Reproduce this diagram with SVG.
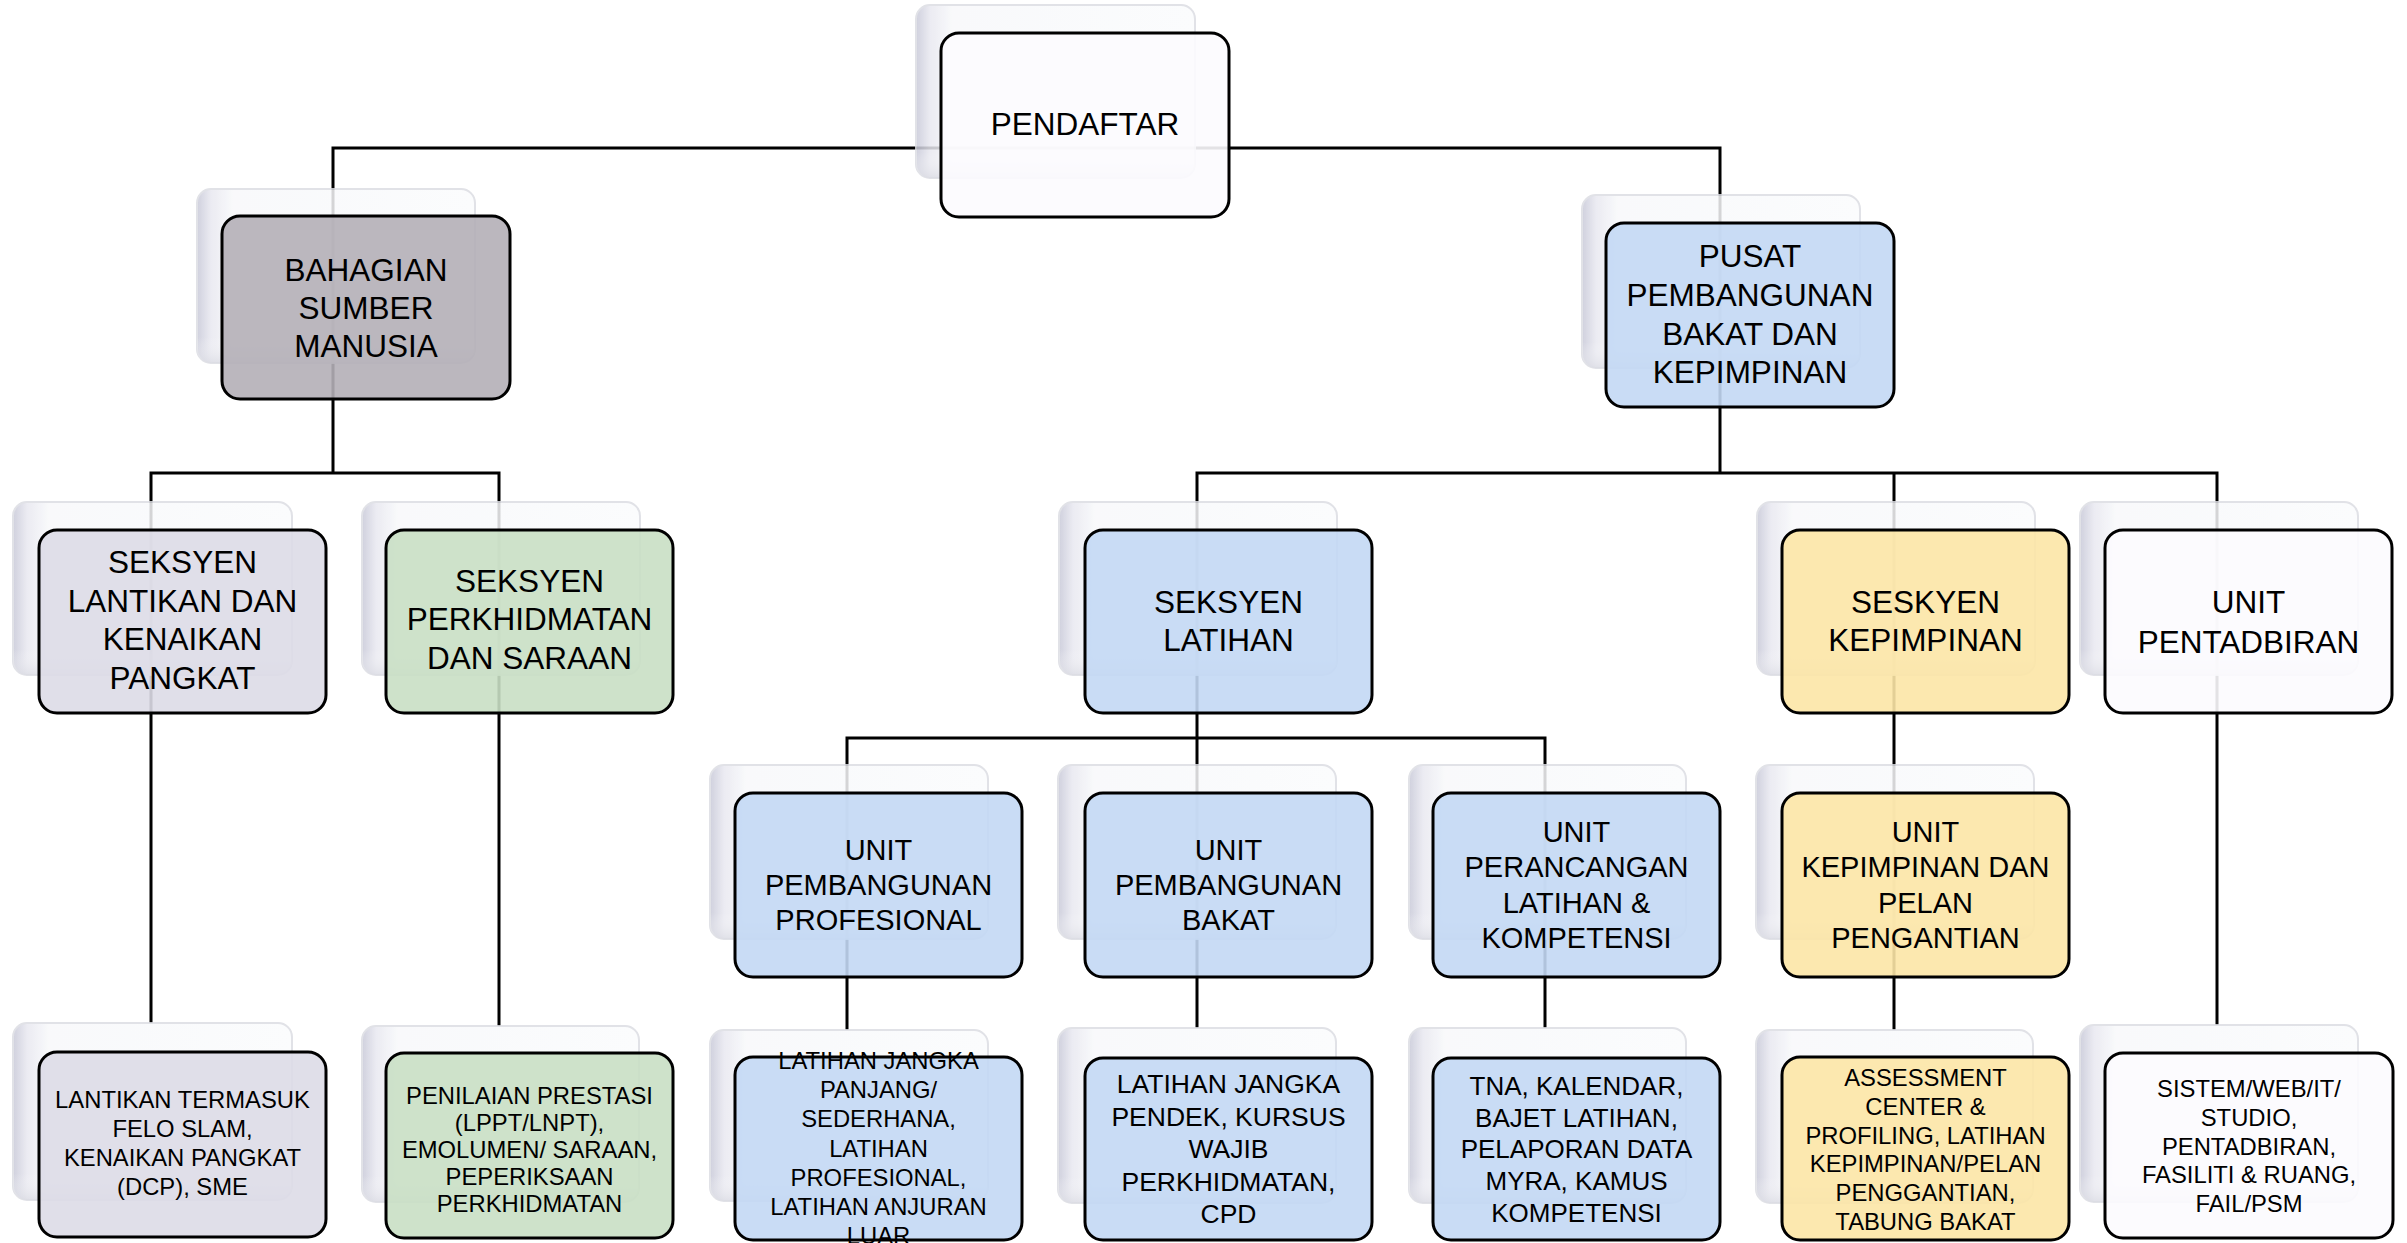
<svg xmlns="http://www.w3.org/2000/svg" width="2407" height="1243" viewBox="0 0 2407 1243">
<defs>
<linearGradient id="backGrad" x1="0" y1="0" x2="1" y2="0">
<stop offset="0" stop-color="#c8c9d8"/>
<stop offset="0.05" stop-color="#e8e8f0"/>
<stop offset="0.13" stop-color="#f8f9fb"/>
<stop offset="1" stop-color="#fbfcfd"/>
</linearGradient>
<linearGradient id="backShade" x1="0" y1="0" x2="0" y2="1">
<stop offset="0.85" stop-color="#ffffff" stop-opacity="0"/>
<stop offset="1" stop-color="#d9dae2" stop-opacity="0.8"/>
</linearGradient>
<style>
.conn{fill:none;stroke:#000;stroke-width:3}
.back{fill:url(#backGrad);stroke:#dcdde3;stroke-width:2;opacity:0.85}
.shade{fill:url(#backShade);stroke:none;opacity:0.85}
.front{stroke:#000;stroke-width:3;fill-opacity:0.9}
.white{fill:#fcfbfe}
.mauve{fill:#b4afb7}
.blue{fill:#c3d8f4}
.lav{fill:#dddbe7}
.green{fill:#c9dfc4}
.yellow{fill:#fce5a6}
text{font-family:"Liberation Sans",Arial,sans-serif;fill:#000;text-anchor:middle}
.f1{font-size:31.5px}
.f2{font-size:29px}
.f3{font-size:26.5px}
.f4{font-size:23.8px}
</style>
</defs>
<rect x="0" y="0" width="2407" height="1243" fill="#ffffff"/>

<g id="connectors">
<path class="conn" d="M333,473 V148 H1720 V473"/>
<path class="conn" d="M151,1023 V473 H499 V1026"/>
<path class="conn" d="M1197,1028 V473 H2217 V1025"/>
<path class="conn" d="M1894,473 V1030"/>
<path class="conn" d="M847,1030 V738 H1545 V1028"/>
</g>

<g id="node-pendaftar">
<rect class="back" x="916" y="5" width="279" height="173" rx="14"/>
<rect class="shade" x="916" y="5" width="279" height="173" rx="14"/>
<rect class="front white" x="941" y="33" width="288" height="184" rx="18"/>
<text class="f1" x="1085" y="135">PENDAFTAR</text>
</g>

<g id="node-bahagian-sumber-manusia">
<rect class="back" x="197" y="189" width="278" height="174" rx="14"/>
<rect class="shade" x="197" y="189" width="278" height="174" rx="14"/>
<rect class="front mauve" x="222" y="216" width="288" height="183" rx="18"/>
<text class="f1"><tspan x="366" y="281">BAHAGIAN</tspan><tspan x="366" y="319">SUMBER</tspan><tspan x="366" y="357">MANUSIA</tspan></text>
</g>

<g id="node-pusat">
<rect class="back" x="1582" y="195" width="278" height="173" rx="14"/>
<rect class="shade" x="1582" y="195" width="278" height="173" rx="14"/>
<rect class="front blue" x="1606" y="223" width="288" height="184" rx="18"/>
<text class="f1"><tspan x="1750" y="267">PUSAT</tspan><tspan x="1750" y="306">PEMBANGUNAN</tspan><tspan x="1750" y="345">BAKAT DAN</tspan><tspan x="1750" y="383">KEPIMPINAN</tspan></text>
</g>

<g id="node-seksyen-lantikan">
<rect class="back" x="13" y="502" width="279" height="173" rx="14"/>
<rect class="shade" x="13" y="502" width="279" height="173" rx="14"/>
<rect class="front lav" x="39" y="530" width="287" height="183" rx="18"/>
<text class="f1"><tspan x="182.5" y="573">SEKSYEN</tspan><tspan x="182.5" y="612">LANTIKAN DAN</tspan><tspan x="182.5" y="650">KENAIKAN</tspan><tspan x="182.5" y="689">PANGKAT</tspan></text>
</g>

<g id="node-seksyen-perkhidmatan">
<rect class="back" x="362" y="502" width="278" height="173" rx="14"/>
<rect class="shade" x="362" y="502" width="278" height="173" rx="14"/>
<rect class="front green" x="386" y="530" width="287" height="183" rx="18"/>
<text class="f1"><tspan x="529.5" y="592">SEKSYEN</tspan><tspan x="529.5" y="630">PERKHIDMATAN</tspan><tspan x="529.5" y="669">DAN SARAAN</tspan></text>
</g>

<g id="node-seksyen-latihan">
<rect class="back" x="1059" y="502" width="278" height="173" rx="14"/>
<rect class="shade" x="1059" y="502" width="278" height="173" rx="14"/>
<rect class="front blue" x="1085" y="530" width="287" height="183" rx="18"/>
<text class="f1"><tspan x="1228.5" y="613">SEKSYEN</tspan><tspan x="1228.5" y="651">LATIHAN</tspan></text>
</g>

<g id="node-seskyen-kepimpinan">
<rect class="back" x="1757" y="502" width="278" height="173" rx="14"/>
<rect class="shade" x="1757" y="502" width="278" height="173" rx="14"/>
<rect class="front yellow" x="1782" y="530" width="287" height="183" rx="18"/>
<text class="f1"><tspan x="1925.5" y="613">SESKYEN</tspan><tspan x="1925.5" y="651">KEPIMPINAN</tspan></text>
</g>

<g id="node-unit-pentadbiran">
<rect class="back" x="2080" y="502" width="278" height="173" rx="14"/>
<rect class="shade" x="2080" y="502" width="278" height="173" rx="14"/>
<rect class="front white" x="2105" y="530" width="287" height="183" rx="18"/>
<text class="f1"><tspan x="2248.5" y="613">UNIT</tspan><tspan x="2248.5" y="653">PENTADBIRAN</tspan></text>
</g>

<g id="node-unit-pembangunan-profesional">
<rect class="back" x="710" y="765" width="278" height="174" rx="14"/>
<rect class="shade" x="710" y="765" width="278" height="174" rx="14"/>
<rect class="front blue" x="735" y="793" width="287" height="184" rx="18"/>
<text class="f2"><tspan x="878.5" y="860">UNIT</tspan><tspan x="878.5" y="895">PEMBANGUNAN</tspan><tspan x="878.5" y="930">PROFESIONAL</tspan></text>
</g>

<g id="node-unit-pembangunan-bakat">
<rect class="back" x="1058" y="765" width="278" height="174" rx="14"/>
<rect class="shade" x="1058" y="765" width="278" height="174" rx="14"/>
<rect class="front blue" x="1085" y="793" width="287" height="184" rx="18"/>
<text class="f2"><tspan x="1228.5" y="860">UNIT</tspan><tspan x="1228.5" y="895">PEMBANGUNAN</tspan><tspan x="1228.5" y="930">BAKAT</tspan></text>
</g>

<g id="node-unit-perancangan">
<rect class="back" x="1409" y="765" width="277" height="174" rx="14"/>
<rect class="shade" x="1409" y="765" width="277" height="174" rx="14"/>
<rect class="front blue" x="1433" y="793" width="287" height="184" rx="18"/>
<text class="f2"><tspan x="1576.5" y="842">UNIT</tspan><tspan x="1576.5" y="877">PERANCANGAN</tspan><tspan x="1576.5" y="913">LATIHAN &amp;</tspan><tspan x="1576.5" y="948">KOMPETENSI</tspan></text>
</g>

<g id="node-unit-kepimpinan">
<rect class="back" x="1756" y="765" width="278" height="174" rx="14"/>
<rect class="shade" x="1756" y="765" width="278" height="174" rx="14"/>
<rect class="front yellow" x="1782" y="793" width="287" height="184" rx="18"/>
<text class="f2"><tspan x="1925.5" y="842">UNIT</tspan><tspan x="1925.5" y="877">KEPIMPINAN DAN</tspan><tspan x="1925.5" y="913">PELAN</tspan><tspan x="1925.5" y="948">PENGANTIAN</tspan></text>
</g>

<g id="node-lantikan-termasuk">
<rect class="back" x="13" y="1023" width="279" height="177" rx="14"/>
<rect class="shade" x="13" y="1023" width="279" height="177" rx="14"/>
<rect class="front lav" x="39" y="1052" width="287" height="185" rx="18"/>
<text class="f4"><tspan x="182.5" y="1108">LANTIKAN TERMASUK</tspan><tspan x="182.5" y="1137">FELO SLAM,</tspan><tspan x="182.5" y="1166">KENAIKAN PANGKAT</tspan><tspan x="182.5" y="1195">(DCP), SME</tspan></text>
</g>

<g id="node-penilaian-prestasi">
<rect class="back" x="362" y="1026" width="277" height="176" rx="14"/>
<rect class="shade" x="362" y="1026" width="277" height="176" rx="14"/>
<rect class="front green" x="386" y="1053" width="287" height="185" rx="18"/>
<text class="f4"><tspan x="529.5" y="1104">PENILAIAN PRESTASI</tspan><tspan x="529.5" y="1131">(LPPT/LNPT),</tspan><tspan x="529.5" y="1158">EMOLUMEN/ SARAAN,</tspan><tspan x="529.5" y="1185">PEPERIKSAAN</tspan><tspan x="529.5" y="1212">PERKHIDMATAN</tspan></text>
</g>

<g id="node-latihan-jangka-panjang">
<rect class="back" x="710" y="1030" width="278" height="171" rx="14"/>
<rect class="shade" x="710" y="1030" width="278" height="171" rx="14"/>
<rect class="front blue" x="735" y="1057" width="287" height="183" rx="18"/>
<text class="f4"><tspan x="878.5" y="1069">LATIHAN JANGKA</tspan><tspan x="878.5" y="1098">PANJANG/</tspan><tspan x="878.5" y="1127">SEDERHANA,</tspan><tspan x="878.5" y="1157">LATIHAN</tspan><tspan x="878.5" y="1186">PROFESIONAL,</tspan><tspan x="878.5" y="1215">LATIHAN ANJURAN</tspan><tspan x="878.5" y="1244">LUAR</tspan></text>
</g>

<g id="node-latihan-jangka-pendek">
<rect class="back" x="1058" y="1028" width="278" height="175" rx="14"/>
<rect class="shade" x="1058" y="1028" width="278" height="175" rx="14"/>
<rect class="front blue" x="1085" y="1058" width="287" height="182" rx="18"/>
<text class="f3"><tspan x="1228.5" y="1093">LATIHAN JANGKA</tspan><tspan x="1228.5" y="1125.5">PENDEK, KURSUS</tspan><tspan x="1228.5" y="1158">WAJIB</tspan><tspan x="1228.5" y="1190.5">PERKHIDMATAN,</tspan><tspan x="1228.5" y="1223">CPD</tspan></text>
</g>

<g id="node-tna">
<rect class="back" x="1409" y="1028" width="277" height="175" rx="14"/>
<rect class="shade" x="1409" y="1028" width="277" height="175" rx="14"/>
<rect class="front blue" x="1433" y="1058" width="287" height="182" rx="18"/>
<text class="f3" style="font-size:26px"><tspan x="1576.5" y="1095">TNA, KALENDAR,</tspan><tspan x="1576.5" y="1127">BAJET LATIHAN,</tspan><tspan x="1576.5" y="1158">PELAPORAN DATA</tspan><tspan x="1576.5" y="1190">MYRA, KAMUS</tspan><tspan x="1576.5" y="1222">KOMPETENSI</tspan></text>
</g>

<g id="node-assessment-center">
<rect class="back" x="1756" y="1030" width="277" height="173" rx="14"/>
<rect class="shade" x="1756" y="1030" width="277" height="173" rx="14"/>
<rect class="front yellow" x="1782" y="1057" width="287" height="183" rx="18"/>
<text class="f4"><tspan x="1925.5" y="1086">ASSESSMENT</tspan><tspan x="1925.5" y="1115">CENTER &amp;</tspan><tspan x="1925.5" y="1144">PROFILING, LATIHAN</tspan><tspan x="1925.5" y="1172">KEPIMPINAN/PELAN</tspan><tspan x="1925.5" y="1201">PENGGANTIAN,</tspan><tspan x="1925.5" y="1230">TABUNG BAKAT</tspan></text>
</g>

<g id="node-sistem">
<rect class="back" x="2080" y="1025" width="278" height="177" rx="14"/>
<rect class="shade" x="2080" y="1025" width="278" height="177" rx="14"/>
<rect class="front white" x="2105" y="1053" width="288" height="185" rx="18"/>
<text class="f4"><tspan x="2249" y="1097">SISTEM/WEB/IT/</tspan><tspan x="2249" y="1126">STUDIO,</tspan><tspan x="2249" y="1155">PENTADBIRAN,</tspan><tspan x="2249" y="1183">FASILITI &amp; RUANG,</tspan><tspan x="2249" y="1212">FAIL/PSM</tspan></text>
</g>
</svg>
